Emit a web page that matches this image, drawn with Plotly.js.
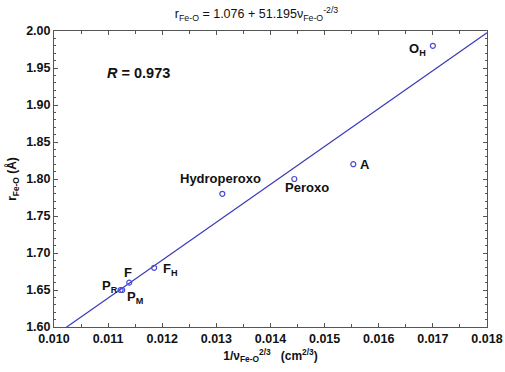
<!DOCTYPE html>
<html>
<head>
<meta charset="utf-8">
<script src="https://cdn.plot.ly/plotly-3.0.1.min.js"></script>
<style>
  body { margin: 0; background: #fff; }
  #graph { width: 505px; height: 372px; }
</style>
</head>
<body>
<div id="graph"></div>
<script>
// data
const labels = ['O<sub>H</sub>', 'A', 'Peroxo', 'Hydroperoxo', 'F<sub>H</sub>', 'F', 'P<sub>R</sub>', 'P<sub>M</sub>'];
const invNu = [0.01700, 0.01553, 0.01444, 0.01311, 0.01185, 0.01139, 0.01123, 0.01126];
const rFeO = [1.980, 1.820, 1.800, 1.780, 1.680, 1.660, 1.650, 1.650];

// fit line r = a + b * x
const fitA = 1.076;
const fitB = 51.195;
const fitX = [0.010, 0.018];
const fitY = fitX.map(x => fitA + fitB * x);

// label offsets (px) from each point
const labelPos = [
  {xa: 'right', dx: -5, dy: -4},
  {xa: 'left', dx: 5, dy: 0},
  {xa: 'center', dx: 13, dy: -8},
  {xa: 'center', dx: -2, dy: 15},
  {xa: 'center', dx: 16, dy: -2},
  {xa: 'center', dx: -1, dy: 10},
  {xa: 'center', dx: -11, dy: 4},
  {xa: 'center', dx: 13, dy: -7}
];

const blue = '#3a3ab8';
const font = 'Liberation Sans, Arial, sans-serif';

const data = [
  {
    x: fitX, y: fitY, type: 'scatter', mode: 'lines',
    line: {color: blue, width: 1.2}, hoverinfo: 'skip'
  },
  {
    x: invNu, y: rFeO, type: 'scatter', mode: 'markers',
    marker: {symbol: 'circle-open', size: 5, color: '#4a4ad0', line: {width: 1.2}}
  }
];

const annotations = labels.map((t, i) => ({
  x: invNu[i], y: rFeO[i], text: '<b>' + t + '</b>', showarrow: false,
  xanchor: labelPos[i].xa, yanchor: 'middle',
  xshift: labelPos[i].dx, yshift: labelPos[i].dy,
  font: {family: font, size: 13, color: '#111'}
}));
annotations.push({
  x: 0.01157, y: 1.943, text: '<b><i>R</i> = 0.973</b>', showarrow: false,
  font: {family: font, size: 14.5, color: '#111'}
});

const axisCommon = {
  showgrid: false, zeroline: false, showline: true, mirror: 'ticks',
  linecolor: '#555', linewidth: 1, ticks: 'inside', ticklen: 4,
  tickcolor: '#555', tickfont: {family: font, size: 12.5, color: '#111', weight: 'bold'}
};

const layout = {
  width: 505, height: 372,
  margin: {l: 54, r: 18, t: 31, b: 45},
  paper_bgcolor: '#fff', plot_bgcolor: '#fff',
  showlegend: false,
  title: {
    text: 'r<sub>Fe-O</sub> = 1.076 + 51.195ν<sub>Fe-O</sub><sup>-2/3</sup>',
    font: {family: font, size: 12.5, color: '#111'},
    x: 0.508, xanchor: 'center', y: 0.975, yanchor: 'top'
  },
  xaxis: Object.assign({}, axisCommon, {
    range: [0.010, 0.018], dtick: 0.001, tickformat: '.3f',
    minor: {dtick: 0.0005, ticks: 'inside', ticklen: 3, tickcolor: '#555'},
    title: {text: '<b>1/ν<sub>Fe-O</sub><sup>2/3</sup>   (cm<sup>2/3</sup>)</b>',
            font: {family: font, size: 12, color: '#111'}, standoff: 6}
  }),
  yaxis: Object.assign({}, axisCommon, {
    range: [1.60, 2.00], dtick: 0.05, tickformat: '.2f',
    minor: {dtick: 0.01, ticks: 'inside', ticklen: 2, tickcolor: '#555'},
    title: {text: '<b>r<sub>Fe-O</sub> (Å)</b>',
            font: {family: font, size: 12, color: '#111'}, standoff: 6}
  }),
  annotations: annotations
};

Plotly.newPlot('graph', data, layout, {staticPlot: true});
</script>
</body>
</html>
